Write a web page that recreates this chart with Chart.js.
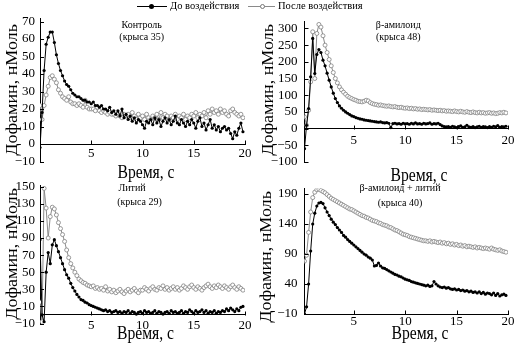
<!DOCTYPE html>
<html>
<head>
<meta charset="utf-8">
<script src="https://cdn.jsdelivr.net/npm/chart.js@4.4.1/dist/chart.umd.min.js"></script>
<style>
    html, body { margin: 0; padding: 0; background: #fff; }
    #wrap { position: relative; width: 514px; height: 343px; overflow: hidden; font-family: "Liberation Serif", serif; }
    #wrap canvas { position: absolute; left: 0; top: 0; }
    .ln { position: absolute; top: 6px; height: 1px; }
    .dot { position: absolute; top: 3.5px; width: 5px; height: 5px; border-radius: 50%; box-sizing: border-box; }
    .tx { position: absolute; top: 0; font-size: 10.5px; line-height: 12px; white-space: nowrap; color: #000; }
</style>
</head>
<body>
<div id="wrap">
    <canvas id="c0" width="514" height="343"></canvas>
    <canvas id="c1" width="514" height="343"></canvas>
    <canvas id="c2" width="514" height="343"></canvas>
    <canvas id="c3" width="514" height="343"></canvas>

    <span class="ln" style="left:137px;width:30px;background:#000"></span>
    <span class="dot" style="left:149px;background:#000"></span>
    <span class="tx" id="lg0" style="left:170px"></span>
    <span class="ln" style="left:248px;width:27px;background:#8a8a8a"></span>
    <span class="dot" style="left:259.5px;background:#fff;border:1px solid #777"></span>
    <span class="tx" id="lg1" style="left:278px"></span>
</div>
<script>
// time, s
const time = [
    0, 0.2, 0.4, 0.6, 0.8, 1, 1.2, 1.4, 1.6, 1.8,
    2, 2.2, 2.4, 2.6, 2.8, 3, 3.2, 3.4, 3.6, 3.8,
    4, 4.2, 4.4, 4.6, 4.8, 5, 5.2, 5.4, 5.6, 5.8,
    6, 6.2, 6.4, 6.6, 6.8, 7, 7.2, 7.4, 7.6, 7.8,
    8, 8.2, 8.4, 8.6, 8.8, 9, 9.2, 9.4, 9.6, 9.8,
    10, 10.2, 10.4, 10.6, 10.8, 11, 11.2, 11.4, 11.6, 11.8,
    12, 12.2, 12.4, 12.6, 12.8, 13, 13.2, 13.4, 13.6, 13.8,
    14, 14.2, 14.4, 14.6, 14.8, 15, 15.2, 15.4, 15.6, 15.8,
    16, 16.2, 16.4, 16.6, 16.8, 17, 17.2, 17.4, 17.6, 17.8,
    18, 18.2, 18.4, 18.6, 18.8, 19, 19.2, 19.4, 19.6, 19.8
];

// Контроль (крыса 35)
const ctrlBefore = [
    -2, 18, 42, 57, 61, 64, 64, 58, 51, 46,
    42, 39, 36, 34, 33, 31, 29, 28, 27, 27,
    26, 25, 25, 24, 24, 23, 24, 22, 22, 21,
    22, 20, 20, 19, 21, 18, 19, 17, 19, 16,
    20, 15, 17, 14, 16, 13, 15, 12, 14, 13,
    11, 9, 13, 12, 14, 11, 15, 12, 14, 10,
    13, 15, 12, 14, 11, 13, 16, 12, 11, 14,
    12, 10, 13, 11, 14, 12, 9, 13, 15, 10,
    12, 8, 11, 14, 9, 11, 8, 10, 7, 9,
    10, 8, 9, 6, 3, 7, 5, 9, 12, 7
];
const ctrlAfter = [
    22, 14, 22, 28, 33, 38, 39, 37, 35, 31,
    29, 27, 26, 25, 27, 24, 23, 23, 22, 23,
    22, 21, 25, 21, 20, 20, 20, 19, 21, 19,
    18, 19, 18, 17, 18, 17, 17, 16, 17, 16,
    15, 17, 16, 17, 15, 18, 16, 14, 17, 15,
    16, 14, 17, 15, 14, 16, 15, 17, 14, 18,
    15, 17, 16, 14, 16, 15, 17, 14, 16, 15,
    17, 14, 16, 15, 17, 16, 18, 15, 17, 16,
    18, 15, 19, 17, 20, 18, 19, 17, 20, 18,
    19, 17, 16, 19, 20, 18, 17, 16, 17, 15
];

// β-амилоид (крыса 48)
const amyBefore = [
    150, -60, 10, 60, 155, 270, 165, 222, 237, 228,
    205, 188, 166, 145, 125, 106, 90, 78, 68, 61,
    55, 50, 46, 42, 38, 36, 33, 31, 29, 28,
    26, 25, 24, 23, 22, 21, 20, 19, 20, 18,
    17, 18, 16, 3, 15, 16, 14, 15, 13, 16,
    14, 15, 13, 16, 14, 17, 14, 15, 13, 16,
    14, 15, 17, 13, 15, 14, 16, 12, 8, 6,
    5, 6, 4, 7, 5, 3, 6, 8, 4, 5,
    10, 5, 4, 6, 3, 5, 7, 4, 6, 5,
    3, 6, 4, 7, 5, 9, 4, 6, 5, 7
];
const amyAfter = [
    45, 35, 10, 55, 140, 290, 150, 285, 312, 304,
    278, 250, 228, 207, 188, 168, 150, 137, 125, 116,
    109, 103, 97, 93, 90, 87, 85, 82, 81, 80,
    82, 85, 83, 78, 75, 73, 72, 70, 71, 69,
    68, 67, 68, 66, 65, 66, 64, 63, 64, 62,
    61, 62, 60, 61, 59, 60, 58, 59, 57, 58,
    57, 56, 57, 55, 56, 55, 54, 55, 53, 54,
    52, 53, 52, 51, 53, 51, 50, 52, 50, 49,
    51, 49, 48, 50, 48, 47, 49, 47, 48, 46,
    47, 48, 46, 47, 45, 46, 48, 47, 49, 47
];

// Литий (крыса 29)
const liBefore = [
    88, 0, -8, 50, 73, 60, 82, 88, 81, 74,
    67, 60, 53, 47, 43, 37, 32, 28, 24, 21,
    18, 17, 15, 14, 12, 11, 10, 9, 8, 7,
    6, 5, 6, 4, 5, 3, 4, 5, 3, 4,
    2, 4, 3, 5, 2, 4, 3, 1, 3, 4,
    2, 5, 3, 4, 2, 3, 5, 2, 4, 3,
    1, 3, 4, 2, 5, 3, 4, 2, 3, 5,
    2, 4, 3, 6, 4, 2, 5, 3, 4, 6,
    3, 5, 2, 4, 3, 5, 2, 4, 3, 5,
    4, 7, 5, 8, 6, 4, 7, 5, 9, 10
];
const liAfter = [
    15, -8, 148, 125, 90, 115, 126, 124, 117, 108,
    101, 94, 86, 76, 67, 60, 55, 50, 46, 42,
    40, 38, 37, 35, 34, 33, 34, 31, 32, 30,
    31, 29, 33, 28, 30, 27, 29, 26, 28, 30,
    27, 25, 28, 30, 27, 29, 31, 28, 26, 29,
    29, 32, 30, 28, 31, 33, 30, 29, 32, 31,
    34, 30, 32, 29, 31, 33, 30, 32, 29, 31,
    34, 32, 30, 33, 35, 32, 30, 33, 31, 29,
    32, 34, 36, 33, 31, 34, 32, 35, 33, 31,
    34, 32, 30, 33, 35, 32, 30, 33, 31, 29
];

// β-амилоид + литий (крыса 40)
const amyLiBefore = [
    -10, -10, 2, 40, 95, 140, 158, 170, 175, 176,
    174, 167, 160, 154, 148, 143, 139, 134, 130, 126,
    121, 118, 114, 111, 108, 105, 102, 99, 96, 93,
    90, 88, 85, 83, 80, 70, 71, 75, 70, 67,
    66, 64, 62, 60, 58, 56, 55, 53, 52, 50,
    48, 47, 46, 44, 43, 42, 41, 40, 39, 38,
    37, 38, 36, 37, 44, 40, 37, 35, 34, 35,
    33, 34, 32, 31, 32, 30, 31, 29, 30, 28,
    29, 27, 28, 26, 27, 25, 27, 24, 26, 23,
    25, 24, 22, 25, 21, 24, 20, 22, 23, 21
];
const amyLiAfter = [
    80, 78, 88, 126, 160, 184, 193, 197, 198, 196,
    194, 192, 189, 186, 183, 181, 179, 177, 175, 173,
    171, 169, 167, 165, 164, 162, 160, 158, 156, 154,
    153, 151, 150, 148, 146, 145, 144, 142, 141, 139,
    138, 137, 135, 134, 132, 130, 129, 127, 125, 123,
    122, 121, 119, 118, 117, 116, 115, 114, 113, 112,
    112, 111, 112, 110, 111, 110, 109, 110, 108, 109,
    107, 108, 106, 107, 105, 106, 104, 105, 103, 104,
    102, 103, 102, 101, 102, 100, 101, 100, 99, 100,
    99, 98, 100, 98, 97, 96, 97, 95, 94, 93
];

const seriesNames = ['До воздействия', 'После воздействия'];
const panelTitles = [
    ['Контроль', '(крыса 35)'],
    ['β-амилоид', '(крыса 48)'],
    ['Литий', '(крыса 29)'],
    ['β-амилоид + литий', '(крыса 40)']
];
const yTickSets = [
    [-10, 0, 10, 20, 30, 40, 50, 60, 70],
    [-100, -50, 0, 50, 100, 150, 200, 250, 300],
    [-10, 10, 30, 50, 70, 90, 110, 130, 150],
    [-10, 40, 90, 140, 190]
];
const xTickValues = [5, 10, 15, 20];
const yTitle = 'Дофамин, нМоль';
const xTitle = 'Время, с';

// layout of the four panels (pixels)
const panels = [
    { before: ctrlBefore, after: ctrlAfter, yMin: -10, yMax: 71.5, xMin: 0, xAt: 0,
      box: { l: 40, r: 245, t: 18.9, b: 161.5 }, xPad: 2, yPad: 5,
      yTitleAt: [12.5, 90], xTitleAt: [146, 173], noteAt: [[141.7, 25], [141.7, 37.5]] },
    { before: amyBefore, after: amyAfter, yMin: -100, yMax: 322, xMin: 0.2, xAt: 0,
      box: { l: 304.5, r: 508, t: 21.1, b: 162 }, xPad: 4, yPad: 7,
      yTitleAt: [269, 90], xTitleAt: [419, 176.5], noteAt: [[398.3, 25], [398.3, 37.5]] },
    { before: liBefore, after: liAfter, yMin: -10, yMax: 152, xMin: 0, xAt: 0,
      box: { l: 40, r: 245, t: 185, b: 323.5 }, xPad: 3, yPad: 5,
      yTitleAt: [12.5, 254], xTitleAt: [145.5, 334], noteAt: [[132, 188.5], [139.5, 202.7]] },
    { before: amyLiBefore, after: amyLiAfter, yMin: -10, yMax: 199, xMin: 0.2, xAt: -10,
      box: { l: 304.5, r: 508, t: 188.6, b: 314 }, xPad: 0, yPad: 7,
      yTitleAt: [267, 257], xTitleAt: [420, 334], noteAt: [[400, 188.5], [400, 203.3]] }
];

Chart.defaults.font.family = '"Liberation Serif", serif';
Chart.defaults.font.size = 13;
Chart.defaults.color = '#000';

function minusLabel(v) {
    return v < 0 ? '\u2212' + Math.abs(v) : String(v);
}

// inward tick marks, axis titles and panel captions
function framePlugin(p, k) {
    return {
        id: 'frame' + k,
        afterDraw(chart) {
            const { ctx, chartArea: a, scales: { x, y } } = chart;
            const y0 = Math.round(y.getPixelForValue(p.xAt)) + 0.5;
            ctx.save();
            ctx.strokeStyle = '#000';
            ctx.lineWidth = 1;
            ctx.beginPath();
            x.ticks.forEach(function (tk) {
                const px = Math.round(x.getPixelForValue(tk.value)) + 0.5;
                ctx.moveTo(px, y0);
                ctx.lineTo(px, y0 - 4);
            });
            y.ticks.forEach(function (tk) {
                const py = Math.round(y.getPixelForValue(tk.value)) + 0.5;
                ctx.moveTo(a.left, py);
                ctx.lineTo(a.left + 4, py);
            });
            ctx.stroke();

            ctx.fillStyle = '#000';
            ctx.textAlign = 'center';
            ctx.textBaseline = 'middle';
            ctx.font = '18px "Liberation Serif"';
            ctx.save();
            ctx.translate(p.yTitleAt[0], p.yTitleAt[1]);
            ctx.scale(0.87, 1);
            ctx.rotate(-Math.PI / 2);
            ctx.fillText(yTitle, 0, 0);
            ctx.restore();
            ctx.save();
            ctx.translate(p.xTitleAt[0], p.xTitleAt[1]);
            ctx.scale(0.87, 1);
            ctx.fillText(xTitle, 0, 0);
            ctx.restore();

            ctx.font = '10px "Liberation Serif"';
            panelTitles[k].forEach(function (s, j) {
                ctx.fillText(s, p.noteAt[j][0], p.noteAt[j][1]);
            });
            ctx.restore();
        }
    };
}

panels.forEach(function (p, k) {
    new Chart(document.getElementById('c' + k), {
        type: 'line',
        data: {
            labels: time,
            datasets: [{
                label: seriesNames[0],
                data: p.before,
                borderColor: '#000',
                borderWidth: 1,
                pointRadius: 1.6,
                pointBackgroundColor: '#000',
                pointBorderWidth: 0
            }, {
                label: seriesNames[1],
                data: p.after,
                borderColor: '#8a8a8a',
                borderWidth: 1,
                pointRadius: 2,
                pointBackgroundColor: '#fff',
                pointBorderColor: '#808080',
                pointBorderWidth: 0.8
            }]
        },
        options: {
            responsive: false,
            animation: false,
            events: [],
            layout: {
                padding: { left: p.box.l - 40, right: 514 - p.box.r, top: p.box.t, bottom: 343 - p.box.b }
            },
            plugins: {
                legend: { display: false },
                tooltip: { enabled: false }
            },
            scales: {
                x: {
                    type: 'linear',
                    position: { y: p.xAt },
                    min: p.xMin,
                    max: 20,
                    grid: { display: false, drawTicks: false },
                    border: { display: true, color: '#000', width: 1 },
                    ticks: { padding: p.xPad, maxRotation: 0, autoSkip: false, callback: minusLabel },
                    afterBuildTicks: function (s) { s.ticks = xTickValues.map(function (v) { return { value: v }; }); },
                    afterFit: function (s) { s.paddingLeft = 0; s.paddingRight = 0; }
                },
                y: {
                    type: 'linear',
                    min: p.yMin,
                    max: p.yMax,
                    grid: { display: false, drawTicks: false },
                    border: { display: true, color: '#000', width: 1 },
                    ticks: { padding: p.yPad, autoSkip: false, callback: minusLabel },
                    afterBuildTicks: function (s) { s.ticks = yTickSets[k].map(function (v) { return { value: v }; }); },
                    afterFit: function (s) { s.width = 40; s.paddingTop = 0; s.paddingBottom = 0; }
                }
            }
        },
        plugins: [framePlugin(p, k)]
    });
});

document.getElementById('lg0').textContent = seriesNames[0];
document.getElementById('lg1').textContent = seriesNames[1];
</script>
</body>
</html>
